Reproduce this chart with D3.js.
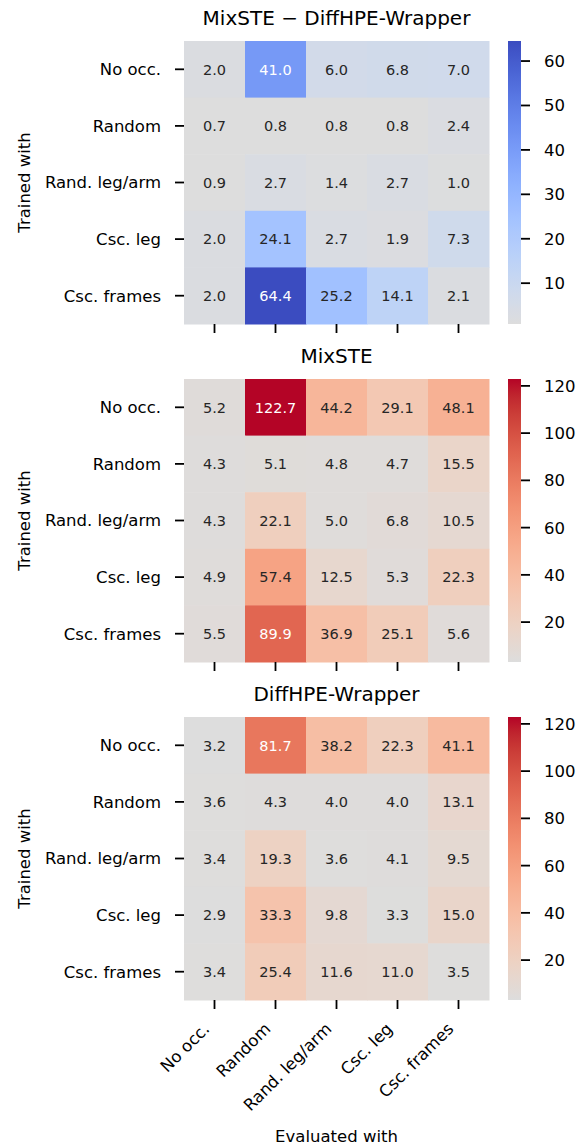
<!DOCTYPE html>
<meta charset="utf-8">
<script src="https://cdn.jsdelivr.net/npm/d3@7"></script>
<style>
body { margin: 0; background: #fff; }
svg text { font-family: "DejaVu Sans", sans-serif; }
.axis path.domain { display: none; }
.axis line { stroke: #000; stroke-width: 1.8; }
.axis text { fill: #000; font-size: 16.5px; }
</style>
<body>
<script>

// categories (rows = trained with, cols = evaluated with)
var occlusions = ["No occ.", "Random", "Rand. leg/arm", "Csc. leg", "Csc. frames"];

// values per panel
var diffValues = [
  [2.0, 41.0, 6.0, 6.8, 7.0],
  [0.7, 0.8, 0.8, 0.8, 2.4],
  [0.9, 2.7, 1.4, 2.7, 1.0],
  [2.0, 24.1, 2.7, 1.9, 7.3],
  [2.0, 64.4, 25.2, 14.1, 2.1]
];
var mixsteValues = [
  [5.2, 122.7, 44.2, 29.1, 48.1],
  [4.3, 5.1, 4.8, 4.7, 15.5],
  [4.3, 22.1, 5.0, 6.8, 10.5],
  [4.9, 57.4, 12.5, 5.3, 22.3],
  [5.5, 89.9, 36.9, 25.1, 5.6]
];
var diffhpeValues = [
  [3.2, 81.7, 38.2, 22.3, 41.1],
  [3.6, 4.3, 4.0, 4.0, 13.1],
  [3.4, 19.3, 3.6, 4.1, 9.5],
  [2.9, 33.3, 9.8, 3.3, 15.0],
  [3.4, 25.4, 11.6, 11.0, 3.5]
];

var titles = ["MixSTE \u2212 DiffHPE-Wrapper", "MixSTE", "DiffHPE-Wrapper"];
var diffTicks = [10, 20, 30, 40, 50, 60];
var errTicks = [20, 40, 60, 80, 100, 120];

// matplotlib "coolwarm" (Moreland) control points
var coolwarmStops = [
  [59,76,192],[68,90,204],[77,104,215],[87,117,225],[98,130,234],[108,142,241],
  [119,154,247],[130,165,251],[141,176,254],[152,185,255],[163,194,255],[174,201,253],
  [184,208,249],[194,213,244],[204,217,238],[213,219,230],[221,221,221],[229,216,209],
  [236,211,197],[241,204,185],[245,196,173],[247,187,160],[247,177,148],[247,166,135],
  [244,154,123],[241,141,111],[236,127,99],[229,112,88],[222,96,77],[213,80,66],
  [203,62,56],[192,40,47],[180,4,38]
];
var coolwarm = d3.piecewise(d3.interpolateRgb,
  coolwarmStops.map(function(c) { return d3.rgb(c[0], c[1], c[2]); }));

// layout
var W = 587, H = 1147;
var hmLeft = 184, hmWidth = 305, hmHeight = 283;
var tops = [41, 379, 717];
var cbX = 508, cbW = 13;

var svg = d3.select("body").append("svg")
  .attr("width", W)
  .attr("height", H);

var defs = svg.append("defs");

var x = d3.scaleBand().domain(occlusions).range([0, hmWidth]);
var y = d3.scaleBand().domain(occlusions).range([0, hmHeight]);

// shared range for the two error panels
var errMin = d3.min(mixsteValues.concat(diffhpeValues), function(r) { return d3.min(r); });
var errMax = d3.max(mixsteValues.concat(diffhpeValues), function(r) { return d3.max(r); });
var diffMin = d3.min(diffValues, function(r) { return d3.min(r); });
var diffMax = d3.max(diffValues, function(r) { return d3.max(r); });

var panels = [
  {values: diffValues, vmin: diffMin, vmax: diffMax, ticks: diffTicks, reverse: true},
  {values: mixsteValues, vmin: errMin, vmax: errMax, ticks: errTicks, reverse: false},
  {values: diffhpeValues, vmin: errMin, vmax: errMax, ticks: errTicks, reverse: false}
];

function luminance(c) {
  var rgb = d3.rgb(c);
  var lin = [rgb.r, rgb.g, rgb.b].map(function(v) {
    v = v / 255;
    return v <= 0.03928 ? v / 12.92 : Math.pow((v + 0.055) / 1.055, 2.4);
  });
  return 0.2126 * lin[0] + 0.7152 * lin[1] + 0.0722 * lin[2];
}

panels.forEach(function(p, k) {
  // grey at the minimum, half of coolwarm up to the maximum
  var t = d3.scaleLinear().domain([p.vmin, p.vmax]).range(p.reverse ? [0.5, 0] : [0.5, 1]);
  var color = function(v) { return coolwarm(t(v)); };

  var g = svg.append("g")
    .attr("transform", "translate(" + hmLeft + "," + tops[k] + ")");

  // title
  g.append("text")
    .attr("x", hmWidth / 2)
    .attr("y", -16)
    .attr("text-anchor", "middle")
    .attr("font-size", "20px")
    .attr("fill", "#000")
    .text(titles[k]);

  var cells = [];
  p.values.forEach(function(row, i) {
    row.forEach(function(v, j) {
      cells.push({row: occlusions[i], col: occlusions[j], value: v});
    });
  });

  g.selectAll(".cell")
    .data(cells)
    .enter().append("rect")
    .attr("class", "cell")
    .attr("x", function(d) { return x(d.col); })
    .attr("y", function(d) { return y(d.row); })
    .attr("width", x.bandwidth() + 0.5)
    .attr("height", y.bandwidth() + 0.5)
    .attr("fill", function(d) { return color(d.value); });

  g.selectAll(".annot")
    .data(cells)
    .enter().append("text")
    .attr("class", "annot")
    .attr("x", function(d) { return x(d.col) + x.bandwidth() / 2; })
    .attr("y", function(d) { return y(d.row) + y.bandwidth() / 2; })
    .attr("dy", "0.36em")
    .attr("text-anchor", "middle")
    .attr("font-size", "14.5px")
    .attr("fill", function(d) { return luminance(color(d.value)) > 0.408 ? "#262626" : "#fff"; })
    .text(function(d) { return d.value.toFixed(1); });

  // y axis
  g.append("g")
    .attr("class", "axis")
    .call(d3.axisLeft(y).tickSize(9).tickPadding(14))
    .selectAll("text")
    .attr("dy", "0.36em");

  // y label
  g.append("text")
    .attr("transform", "translate(" + (30 - hmLeft) + "," + (hmHeight / 2) + ") rotate(-90)")
    .attr("text-anchor", "middle")
    .attr("font-size", "16.5px")
    .attr("fill", "#000")
    .text("Trained with");

  // x axis (labels only on the last panel)
  var xAxis = g.append("g")
    .attr("class", "axis")
    .attr("transform", "translate(0," + hmHeight + ")")
    .call(d3.axisBottom(x).tickSize(9));
  if (k < 2) {
    xAxis.selectAll("text").remove();
  } else {
    xAxis.selectAll("text")
      .attr("x", 0)
      .attr("y", 0)
      .attr("dy", 0)
      .attr("text-anchor", "end")
      .attr("transform", "translate(-4,30) rotate(-45)");
    g.append("text")
      .attr("x", hmWidth / 2)
      .attr("y", hmHeight + 142)
      .attr("text-anchor", "middle")
      .attr("font-size", "16.5px")
      .attr("fill", "#000")
      .text("Evaluated with");
  }

  // colorbar
  var cb = d3.scaleLinear().domain([p.vmin, p.vmax]).range([hmHeight, 0]);
  var gradId = "cbgrad" + k;
  var grad = defs.append("linearGradient")
    .attr("id", gradId)
    .attr("x1", 0).attr("y1", 1)
    .attr("x2", 0).attr("y2", 0);
  d3.range(0, 1.0001, 1 / 40).forEach(function(s) {
    grad.append("stop")
      .attr("offset", s)
      .attr("stop-color", color(p.vmin + s * (p.vmax - p.vmin)));
  });

  var cbg = svg.append("g")
    .attr("transform", "translate(" + cbX + "," + tops[k] + ")");
  cbg.append("rect")
    .attr("width", cbW)
    .attr("height", hmHeight)
    .attr("fill", "url(#" + gradId + ")");
  cbg.append("g")
    .attr("class", "axis")
    .attr("transform", "translate(" + cbW + ",0)")
    .call(d3.axisRight(cb).tickValues(p.ticks).tickSize(9).tickPadding(14))
    .selectAll("text")
    .attr("dy", "0.36em");
});

</script>
</body>
